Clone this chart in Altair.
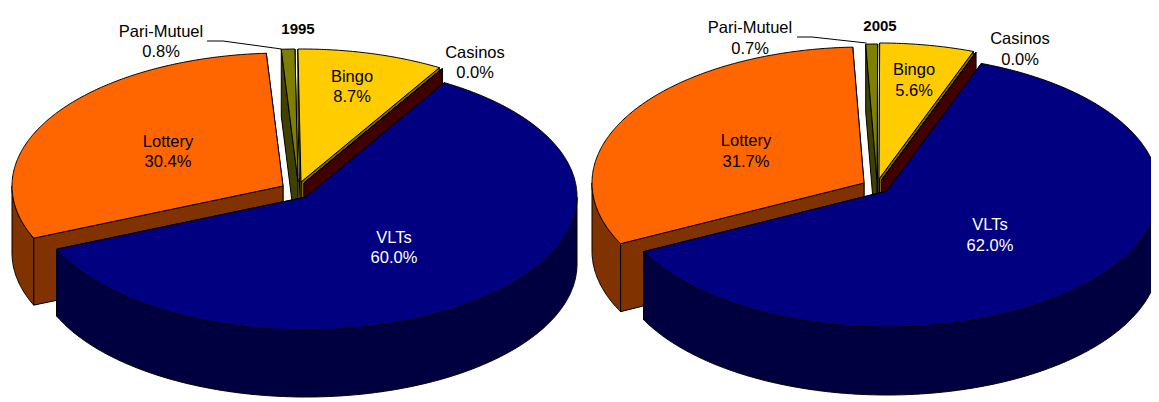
import math
import altair as alt

# ---- data
CATEGORIES = ["VLTs", "Lottery", "Pari-Mutuel", "Bingo", "Casinos"]
VALUES_1995 = [60.0, 30.4, 0.8, 8.7, 0.0]
VALUES_2005 = [62.0, 31.7, 0.7, 5.6, 0.0]
YEARS = ["1995", "2005"]

# ---- styles
TOP = {"VLTs": "#000080", "Lottery": "#FF6600", "Pari-Mutuel": "#808000", "Bingo": "#FFCC00", "Casinos": "#800000"}
SIDE = {"VLTs": "#000040", "Lottery": "#803300", "Pari-Mutuel": "#404000", "Bingo": "#806600", "Casinos": "#400000"}
TEXT = {"VLTs": "white"}
FONT = "Liberation Sans"

# ---- layout, in page pixels: ellipse, extrusion, first-slice angle, exploded slice centres, labels
PIES = [
    dict(values=VALUES_1995, year=YEARS[0], rx=271, ry=133, depth=67, start=30.7,
         centers={"VLTs": (306, 197), "Lottery": (283, 186), "Pari-Mutuel": (298, 182), "Bingo": (301, 182), "Casinos": (304, 183)},
         labels={"VLTs": (394, 238), "Lottery": (168, 142), "Pari-Mutuel": (161, 32), "Bingo": (352, 77), "Casinos": (475, 53)},
         year_at=(298, 28.5), leader=[(207, 41), (223, 41), (281.5, 49)], gap=20),
    dict(values=VALUES_2005, year=YEARS[1], rx=272, ry=136, depth=68, start=20.3,
         centers={"VLTs": (887, 191), "Lottery": (864, 183), "Pari-Mutuel": (877, 180), "Bingo": (879, 179), "Casinos": (881.5, 180)},
         labels={"VLTs": (990, 225), "Lottery": (746, 141), "Pari-Mutuel": (750, 28), "Bingo": (914, 70), "Casinos": (1020, 39)},
         year_at=(880, 25.5), leader=[(797, 37), (812, 37), (866.5, 43)], gap=20.5),
]


def pt(c, rx, ry, t, dy=0):
    a = math.radians(t)
    return [c[0] + rx * math.sin(a), c[1] - ry * math.cos(a) + dy]


def arc(c, rx, ry, a, b, dy=0):
    n = max(1, int(abs(b - a) * 2))
    return [pt(c, rx, ry, a + (b - a) * i / n, dy) for i in range(n + 1)]


def poly(points, fill):
    ring = [list(p) for p in points]
    ring.append(ring[0])
    return {"type": "Feature", "geometry": {"type": "Polygon", "coordinates": [ring]},
            "properties": {"fill": fill}}


features, leaders, texts, bold = [], [], [], []
for pie in PIES:
    rx, ry, d = pie["rx"], pie["ry"], pie["depth"]
    total = sum(pie["values"])
    t = pie["start"]
    slices = {}
    for name, v in zip(CATEGORIES, pie["values"]):
        t2 = t + v / total * 360
        slices[name] = (t, t2)
        t = t2
    for name in ["Lottery", "Pari-Mutuel", "Bingo", "Casinos", "VLTs"]:
        a, b = slices[name]
        c = pie["centers"][name]
        apex = list(c)
        apex_low = [c[0], c[1] + d]
        for ang in (b, a):
            p = pt(c, rx, ry, ang)
            features.append(poly([apex, p, [p[0], p[1] + d], apex_low], SIDE[name]))
        lo, hi = max(a, 90), min(b, 270)
        if hi > lo:
            features.append(poly(arc(c, rx, ry, lo, hi) + arc(c, rx, ry, hi, lo, d), SIDE[name]))
        features.append(poly([apex] + arc(c, rx, ry, a, b), TOP[name]))
    leaders.append({"type": "Feature", "properties": {},
                    "geometry": {"type": "LineString", "coordinates": [list(p) for p in pie["leader"]]}})
    for name, v in zip(CATEGORIES, pie["values"]):
        x, y = pie["labels"][name]
        col = TEXT.get(name, "black")
        texts.append({"x": x, "y": y, "t": name, "c": col})
        texts.append({"x": x, "y": y + pie["gap"], "t": f"{v:.1f}%", "c": col})
    bold.append({"x": pie["year_at"][0], "y": pie["year_at"][1], "t": pie["year"]})

projection = alt.Projection(type="identity", scale=1, translate=[-8, -8])

shapes = alt.Chart(alt.Data(values=features)).mark_geoshape(
    stroke="black", strokeWidth=1, strokeJoin="round"
).encode(fill=alt.Fill("properties.fill:N", scale=None)).project(**projection.to_dict())

lines = alt.Chart(alt.Data(values=leaders)).mark_geoshape(
    filled=False, stroke="black", strokeWidth=1
).project(**projection.to_dict())

labels = alt.Chart(alt.Data(values=texts)).mark_text(
    font=FONT, fontSize=16.5, align="center", baseline="middle"
).encode(
    longitude="x:Q", latitude="y:Q", text="t:N", color=alt.Color("c:N", scale=None)
).project(**projection.to_dict())

years = alt.Chart(alt.Data(values=bold)).mark_text(
    font=FONT, fontSize=15, fontWeight="bold", align="center", baseline="middle", color="black"
).encode(longitude="x:Q", latitude="y:Q", text="t:N").project(**projection.to_dict())

chart = alt.layer(shapes, lines, labels, years).properties(
    width=1143, height=390, padding=0, autosize=alt.AutoSizeParams(type="none")
).configure_view(stroke=None)

chart.save("out.html", embed_options={"renderer": "svg", "actions": False})
